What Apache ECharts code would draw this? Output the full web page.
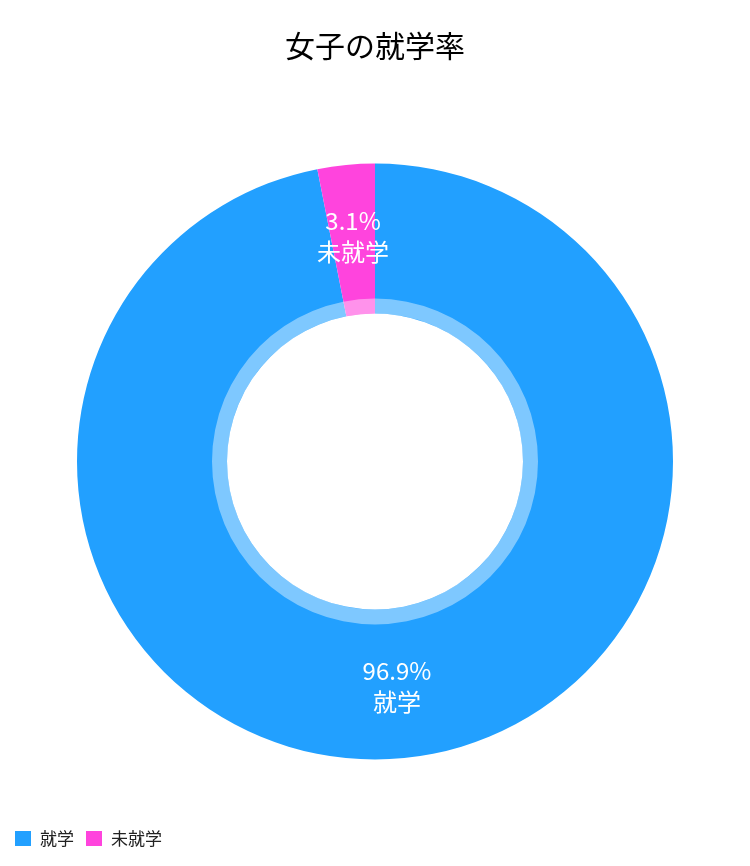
<!DOCTYPE html>
<html>
<head>
<meta charset="utf-8">
<script src="https://cdn.jsdelivr.net/npm/echarts@6/dist/echarts.min.js"></script>
<style>
html,body{margin:0;padding:0;background:#fff;}
#chart{width:750px;height:866px;}
</style>
</head>
<body>
<div id="chart"></div>
<script>
const titleText = '女子の就学率';
const categories = ['就学', '未就学'];
const values = [96.9, 3.1];
const colors = ['#22a0ff', '#ff44dd'];

const font = '"Noto Sans CJK JP", "Noto Sans", sans-serif';
const chart = echarts.init(document.getElementById('chart'));
chart.setOption({
  animation: false,
  color: colors,
  title: {
    text: titleText,
    left: 'center',
    top: 26,
    textStyle: { fontFamily: font, fontSize: 30, fontWeight: 'normal', color: '#000' }
  },
  legend: {
    data: categories,
    left: 10,
    bottom: 14,
    icon: 'rect',
    itemWidth: 16,
    itemHeight: 15,
    itemGap: 12,
    textStyle: { fontFamily: font, fontSize: 17, color: '#222', padding: [0, 0, 0, 4] }
  },
  series: [
    {
      type: 'pie',
      center: [375, 461.5],
      radius: [148, 298],
      startAngle: 90,
      clockwise: true,
      data: categories.map((c, i) => ({ name: c, value: values[i] })),
      label: {
        show: true,
        position: 'inside',
        formatter: p => p.value.toFixed(1) + '%\n' + p.name,
        color: '#fff',
        fontFamily: font,
        fontSize: 24,
        lineHeight: 31
      },
      labelLine: { show: false },
      emphasis: { disabled: true }
    },
    {
      type: 'pie',
      center: [375, 461.5],
      radius: [148, 163],
      silent: true,
      data: [{ name: 'overlay', value: 1 }],
      itemStyle: { color: 'rgba(255,255,255,0.42)' },
      label: { show: false },
      labelLine: { show: false },
      emphasis: { disabled: true }
    }
  ]
});
</script>
</body>
</html>
